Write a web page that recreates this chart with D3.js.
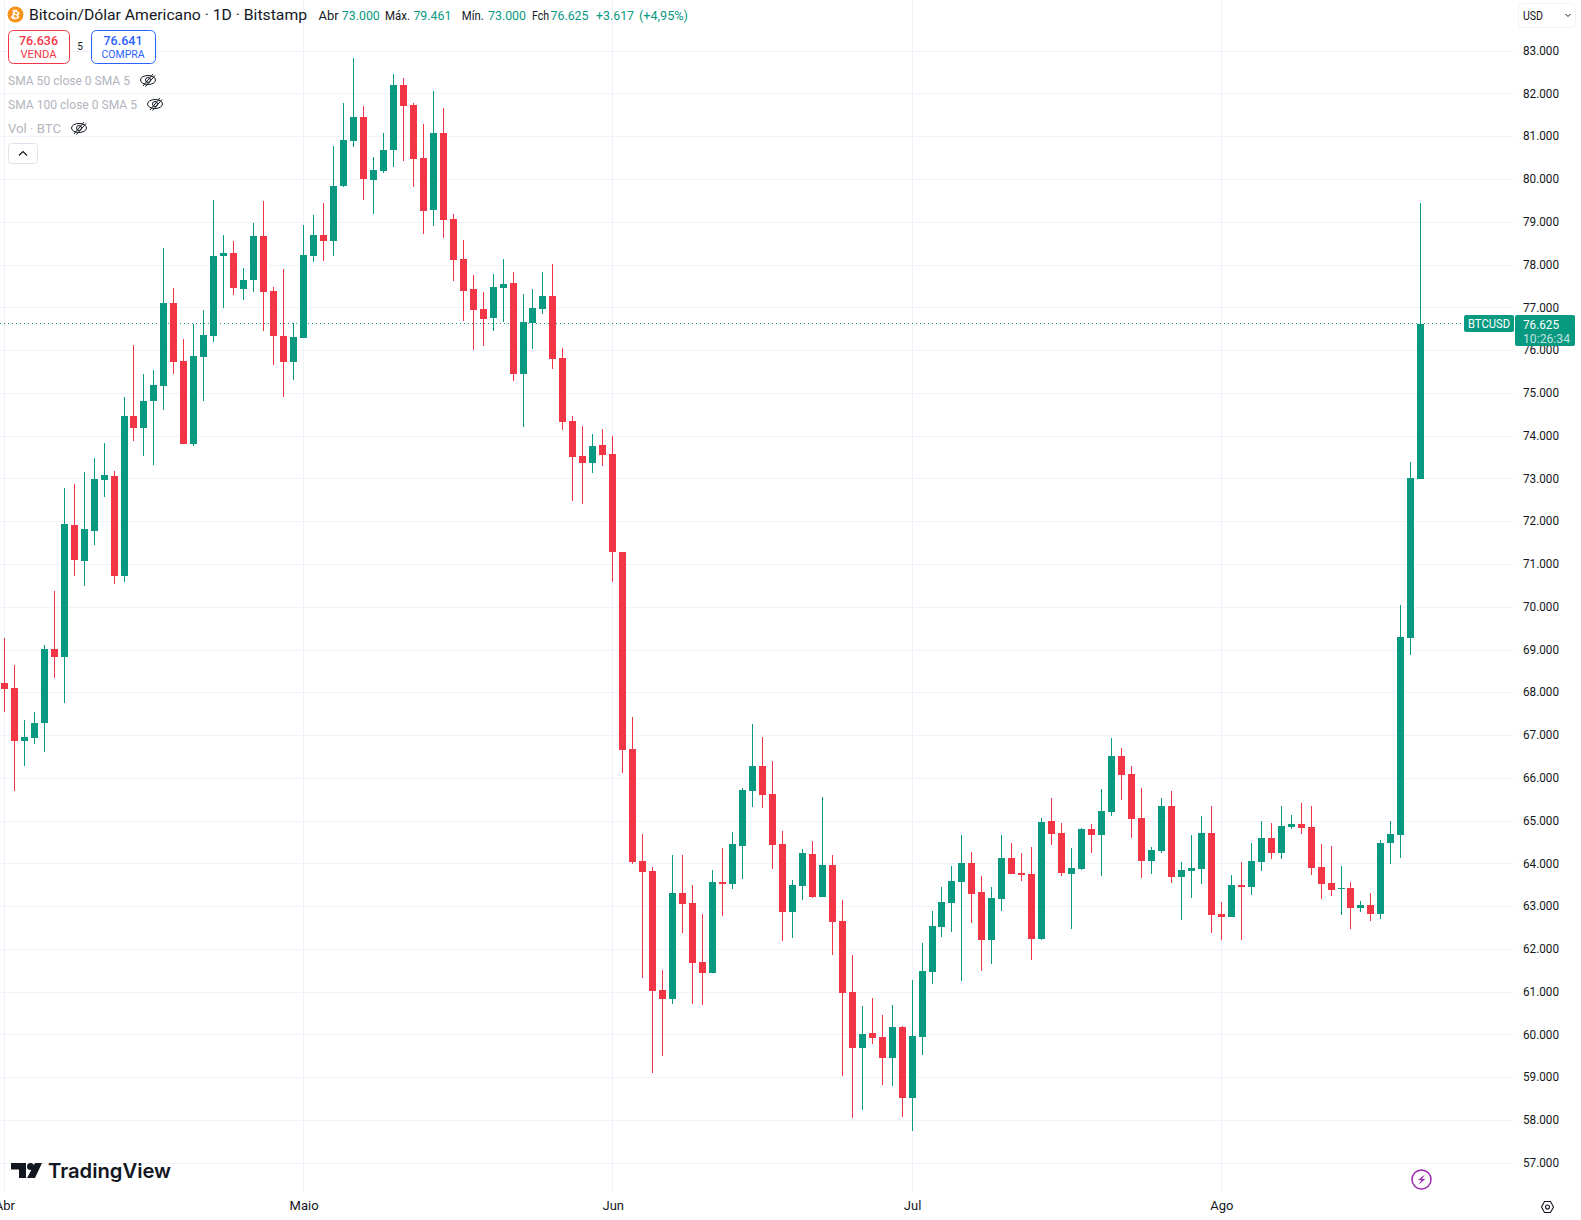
<!DOCTYPE html>
<html lang="pt">
<head>
<meta charset="utf-8">
<title>BTCUSD</title>
<script src="https://cdn.jsdelivr.net/npm/d3@7"></script>
<style>
  html, body { margin: 0; background: #fff; }
  svg { display: block; font-family: Roboto, "Open Sans", sans-serif; }
  .axis text { font-size: 13px; fill: #131722; font-family: Roboto, sans-serif; }
  .axis path, .axis line { display: none; }
  .gridline { stroke: #f0f3fa; stroke-width: 1; shape-rendering: crispEdges; }
</style>
</head>
<body>
<div id="chart"></div>
<script>
// prices in thousands of USD, one entry per daily candle
const opens = [
  68.23,68.11,66.88,66.95,67.30,69.02,68.84,71.92,71.07,71.79,
  72.97,73.07,70.74,74.47,74.18,74.83,75.18,77.11,75.76,73.82,
  75.86,76.35,78.21,78.28,77.44,77.64,78.68,77.39,76.34,75.74,
  76.30,78.21,78.70,78.57,79.85,80.91,81.46,80.00,80.21,80.68,
  82.21,81.74,80.50,79.29,81.09,79.08,78.14,77.44,76.97,76.76,
  77.46,77.58,75.45,76.64,76.97,77.28,75.83,74.35,73.53,73.37,
  73.79,73.58,71.30,66.68,64.07,63.83,61.05,60.84,63.32,63.08,
  61.70,61.45,63.57,63.53,64.42,65.70,66.29,65.63,64.46,62.87,
  63.48,64.23,63.22,63.97,62.66,61.00,59.69,60.04,59.95,59.46,
  60.18,58.52,59.95,61.47,62.52,63.08,63.57,64.02,63.34,62.22,
  63.18,64.13,63.79,63.76,62.24,65.00,64.72,63.76,63.88,64.81,
  64.67,65.21,66.52,66.10,65.07,64.07,64.30,65.35,63.69,63.83,
  63.88,64.72,62.83,62.76,63.50,63.46,64.04,64.60,64.25,64.86,
  64.93,64.86,63.93,63.55,63.41,63.43,62.97,63.04,62.83,64.49,
  64.67,69.28,73.00
];
const highs = [
  69.27,68.64,67.36,67.55,69.11,70.38,72.79,72.88,73.16,73.49,
  73.84,73.18,74.92,76.13,75.45,75.55,78.40,77.46,76.27,76.63,
  76.95,79.52,78.70,78.56,77.93,78.98,79.50,77.48,77.91,76.65,
  78.94,79.17,79.45,80.79,81.79,82.84,81.72,80.53,81.09,82.47,
  82.38,81.78,81.30,82.07,81.67,79.19,78.58,77.77,77.37,77.79,
  78.14,77.84,77.32,77.44,77.84,78.02,76.06,74.47,74.24,74.05,
  74.17,74.00,71.30,67.43,64.70,63.92,61.52,64.21,64.21,63.50,
  62.83,63.85,64.37,64.74,65.77,67.27,66.96,66.40,64.77,63.62,
  64.35,64.53,65.56,64.21,63.15,61.87,60.67,60.86,60.46,60.70,
  60.21,61.28,62.15,62.90,63.46,63.95,64.67,64.27,63.71,63.46,
  64.67,64.49,64.25,64.39,65.07,65.54,64.95,64.37,64.84,64.93,
  65.75,66.94,66.71,66.29,65.77,64.39,65.54,65.70,64.04,64.67,
  65.12,65.35,63.11,63.74,64.04,64.49,65.00,64.95,65.35,65.14,
  65.42,65.35,64.46,64.42,63.95,63.57,63.13,63.32,64.56,65.00,
  70.05,73.39,79.461
];
const lows = [
  67.56,65.71,66.30,66.81,66.62,68.35,67.75,70.74,70.50,71.46,
  72.58,70.55,70.60,73.89,73.54,73.33,74.60,75.46,73.82,73.78,
  74.83,76.19,77.00,77.31,77.19,77.38,76.47,75.67,74.92,75.32,
  76.30,78.06,78.10,78.22,79.83,80.75,79.53,79.20,80.16,80.30,
  80.44,79.83,78.73,78.92,78.64,77.63,76.69,76.01,76.11,76.46,
  76.67,75.29,74.21,76.04,76.85,75.57,74.14,72.48,72.41,73.14,
  73.30,70.59,66.13,64.00,61.34,59.11,59.51,60.72,62.38,60.72,
  60.70,61.45,62.78,63.41,63.64,65.33,65.30,63.88,62.19,62.26,
  63.15,63.20,63.22,61.87,59.04,58.06,58.24,59.79,58.83,58.80,
  58.08,57.75,59.53,61.19,62.29,62.40,61.26,62.62,61.49,61.66,
  62.90,63.76,63.60,61.75,62.22,64.44,63.71,62.48,63.86,64.25,
  63.71,65.12,65.49,64.60,63.67,63.76,64.25,63.55,62.69,63.20,
  63.53,62.38,62.22,62.76,62.22,63.27,63.83,64.11,64.11,64.81,
  64.70,63.74,63.18,63.25,62.80,62.48,62.87,62.66,62.71,64.00,
  64.14,68.88,73.00
];
const closes = [
  68.10,66.88,66.96,67.29,69.02,68.84,71.95,71.11,71.83,73.00,
  73.09,70.74,74.47,74.18,74.82,75.20,77.11,75.74,73.82,75.87,
  76.37,78.21,78.28,77.47,77.65,78.68,77.38,76.33,75.74,76.32,
  78.24,78.70,78.57,79.85,80.93,81.46,80.02,80.22,80.69,82.21,
  81.73,80.49,79.26,81.09,79.05,78.12,77.40,76.95,76.74,77.49,
  77.56,75.45,76.67,76.99,77.28,75.80,74.33,73.51,73.37,73.77,
  73.56,71.30,66.66,64.04,63.81,61.03,60.84,63.32,63.06,61.68,
  61.45,63.57,63.53,64.46,65.73,66.29,65.61,64.44,62.87,63.50,
  64.25,63.22,63.97,62.64,60.98,59.69,60.02,59.93,59.46,60.18,
  58.52,59.97,61.49,62.55,63.11,63.60,64.02,63.29,62.22,63.20,
  64.13,63.76,63.74,62.24,64.98,64.70,63.79,63.90,64.81,64.67,
  65.24,66.52,66.08,65.05,64.07,64.32,65.35,63.69,63.86,63.90,
  64.72,62.80,62.76,63.50,63.46,64.07,64.60,64.25,64.88,64.93,
  64.84,63.90,63.53,63.39,63.43,62.97,63.04,62.83,64.49,64.70,
  69.30,73.02,76.625
];

const priceTicks = d3.range(57, 84);
const monthStarts = [0, 30, 61, 91, 122];
const monthLabels = ['Abr', 'Maio', 'Jun', 'Jul', 'Ago'];
const lastPrice = 76.625;

const width = 1581;
const height = 1220;
const upColor = '#089981';
const downColor = '#f23645';

const xScale = d3.scaleLinear().domain([0, 122]).range([4.3, 1221.3]);
const yScale = d3.scaleLinear().domain([57, 83]).range([1163.3, 51.2]);

const svg = d3.select('#chart').append('svg')
  .attr('width', width)
  .attr('height', height)
  .attr('viewBox', `0 0 ${width} ${height}`);

// squeeze a label to the width it has in the reference
function fit(sel, w) {
  return sel.attr('textLength', w).attr('lengthAdjust', 'spacingAndGlyphs');
}

// gridlines
const grid = svg.append('g');
grid.selectAll('.h').data(priceTicks).join('line')
  .attr('class', 'gridline h')
  .attr('x1', 0).attr('x2', 1514)
  .attr('y1', d => Math.floor(yScale(d)) + 0.5)
  .attr('y2', d => Math.floor(yScale(d)) + 0.5);
grid.selectAll('.v').data(monthStarts).join('line')
  .attr('class', 'gridline v')
  .attr('y1', 0).attr('y2', 1192)
  .attr('x1', d => Math.floor(xScale(d)) + 0.5)
  .attr('x2', d => Math.floor(xScale(d)) + 0.5);

// last price dotted line
svg.append('line')
  .attr('x1', 0).attr('x2', 1464)
  .attr('y1', Math.floor(yScale(lastPrice)) + 0.5).attr('y2', Math.floor(yScale(lastPrice)) + 0.5)
  .attr('stroke', upColor)
  .attr('stroke-dasharray', '1 3')
  .attr('shape-rendering', 'crispEdges');

// candles
const candles = opens.map((o, i) => ({ i, o, h: highs[i], l: lows[i], c: closes[i] }));
const candle = svg.append('g').selectAll('g').data(candles).join('g')
  .attr('fill', d => d.c >= d.o ? upColor : downColor)
  .attr('shape-rendering', 'crispEdges');
candle.append('rect')
  .attr('x', d => Math.floor(xScale(d.i)))
  .attr('width', 1)
  .attr('y', d => yScale(d.h))
  .attr('height', d => yScale(d.l) - yScale(d.h));
candle.append('rect')
  .attr('x', d => Math.floor(xScale(d.i)) - 3)
  .attr('width', 7)
  .attr('y', d => yScale(Math.max(d.o, d.c)))
  .attr('height', d => Math.max(1, Math.abs(yScale(d.o) - yScale(d.c))));

// axes
const yAxis = svg.append('g').attr('class', 'axis')
  .attr('transform', 'translate(1523,-1)')
  .call(d3.axisRight(yScale).tickValues(priceTicks).tickSize(0).tickPadding(0)
    .tickFormat(d => d + '.000'));
fit(yAxis.selectAll('text'), 36);
svg.append('g').attr('class', 'axis')
  .attr('transform', 'translate(0,1201)')
  .call(d3.axisBottom(xScale).tickValues(monthStarts).tickSize(0).tickPadding(0)
    .tickFormat((d, i) => monthLabels[i]));

// last price tags
svg.append('rect').attr('x', 1464).attr('y', 315).attr('width', 50).attr('height', 17)
  .attr('rx', 2).attr('fill', upColor);
fit(svg.append('text').attr('x', 1468).attr('y', 328).attr('fill', '#fff')
  .attr('font-size', 13).text('BTCUSD'), 42);
svg.append('rect').attr('x', 1515).attr('y', 315).attr('width', 60).attr('height', 31)
  .attr('rx', 2).attr('fill', upColor);
fit(svg.append('text').attr('x', 1523).attr('y', 328.5).attr('fill', '#fff')
  .attr('font-size', 13).text('76.625'), 36);
fit(svg.append('text').attr('x', 1523).attr('y', 342.5).attr('fill', '#fff').attr('fill-opacity', 0.75)
  .attr('font-size', 13).text('10:26:34'), 47);

// header
svg.append('circle').attr('cx', 15.5).attr('cy', 14.5).attr('r', 8).attr('fill', '#f7931a');
svg.append('text').attr('x', 15.5).attr('y', 18.5).attr('text-anchor', 'middle')
  .attr('transform', 'rotate(14 15.5 14.5)')
  .attr('fill', '#fff').attr('font-size', 11).attr('font-weight', 700).text('₿');
fit(svg.append('text').attr('x', 29).attr('y', 20).attr('font-size', 15.5).attr('fill', '#131722')
  .text('Bitcoin/Dólar Americano · 1D · Bitstamp'), 278);

const legendParts = [
  [318.6, 'Abr', '#131722', 20], [341.8, '73.000', upColor, 38],
  [385, 'Máx.', '#131722', 25], [413.4, '79.461', upColor, 38],
  [461.8, 'Mín.', '#131722', 22], [488, '73.000', upColor, 38],
  [532, 'Fch', '#131722', 17], [550.5, '76.625', upColor, 38],
  [596, '+3.617', upColor, 38], [639, '(+4,95%)', upColor, 49]
];
fit(svg.append('g').selectAll('text').data(legendParts).join('text')
  .attr('x', d => d[0]).attr('y', 19.5)
  .attr('font-size', 13).attr('fill', d => d[2])
  .text(d => d[1]), d => d[3]);

// sell / buy boxes
[[8, 61, downColor, '76.636', 'VENDA', 36], [91, 64, '#2962ff', '76.641', 'COMPRA', 43]].forEach(([x, w, col, price, label, lw]) => {
  svg.append('rect').attr('x', x + 0.5).attr('y', 30.5).attr('width', w).attr('height', 33)
    .attr('rx', 5).attr('fill', '#fff').attr('stroke', col);
  fit(svg.append('text').attr('x', x + w / 2).attr('y', 44.5).attr('text-anchor', 'middle')
    .attr('font-size', 13).attr('font-weight', 500).attr('fill', col).text(price), 39);
  fit(svg.append('text').attr('x', x + w / 2).attr('y', 58).attr('text-anchor', 'middle')
    .attr('font-size', 11.5).attr('fill', col).text(label), lw);
});
svg.append('text').attr('x', 80).attr('y', 50).attr('text-anchor', 'middle')
  .attr('font-size', 10).attr('fill', '#131722').text('5');

// hidden indicators
const indicators = [['SMA 50 close 0 SMA 5', 80, 148, 122], ['SMA 100 close 0 SMA 5', 104, 155, 129], ['Vol · BTC', 128, 79, 53]];
indicators.forEach(([label, y, eyeX, labelWidth]) => {
  fit(svg.append('text').attr('x', 8).attr('y', y + 4.5).attr('font-size', 13)
    .attr('fill', '#b2b5be').text(label), labelWidth);
  const eye = svg.append('g').attr('transform', `translate(${eyeX},${y})`)
    .attr('fill', 'none').attr('stroke', '#131722').attr('stroke-width', 1);
  eye.append('ellipse').attr('rx', 7.5).attr('ry', 4.5);
  eye.append('circle').attr('r', 2.5);
  eye.append('line').attr('x1', -5).attr('y1', 6).attr('x2', 5).attr('y2', -6);
  eye.append('line').attr('x1', -2.5).attr('y1', 6.5).attr('x2', 7).attr('y2', -4.5);
});
svg.append('rect').attr('x', 8.5).attr('y', 143.5).attr('width', 29).attr('height', 20)
  .attr('rx', 3).attr('fill', '#fff').attr('stroke', '#e0e3eb');
svg.append('path').attr('d', 'M19 155.5l4-4 4 4').attr('fill', 'none')
  .attr('stroke', '#131722').attr('stroke-width', 1.2);

// currency button
svg.append('rect').attr('x', 1518.5).attr('y', 3.5).attr('width', 57).attr('height', 24)
  .attr('rx', 4).attr('fill', '#fff').attr('stroke', '#f0f3fa');
fit(svg.append('text').attr('x', 1523).attr('y', 19.5).attr('font-size', 13).attr('fill', '#131722').text('USD'), 20);
svg.append('path').attr('d', 'M1565.5 14l2.5 2.5 2.5-2.5').attr('fill', 'none')
  .attr('stroke', '#131722').attr('stroke-width', 1);

// logo
const logo = svg.append('g').attr('fill', '#131722');
logo.append('path').attr('d', 'M11 1163h15v15h-7v-8.500h-8z');
logo.append('circle').attr('cx', 30.5).attr('cy', 1166.500).attr('r', 3.5);
logo.append('path').attr('d', 'M35 1163h7l-7 15h-8z');
logo.append('text').attr('x', 48).attr('y', 1178).attr('font-family', 'Inter, sans-serif')
  .attr('font-size', 20.2).attr('font-weight', 600).text('TradingView');

// lightning badge and settings
svg.append('circle').attr('cx', 1421.5).attr('cy', 1179.5).attr('r', 9.500)
  .attr('fill', '#fff').attr('stroke', '#9c27b0').attr('stroke-width', 1.5);
svg.append('path').attr('d', 'M1425 1174.500l-7 5.500h3.500l-3 4.500 7-5.500h-3.500z').attr('fill', '#9c27b0');
svg.append('path').attr('d', 'M1541.5 1207l3-5.500h6l3 5.500-3 5.500h-6z').attr('fill', 'none')
  .attr('stroke', '#131722').attr('stroke-width', 1.1);
svg.append('circle').attr('cx', 1547.500).attr('cy', 1207).attr('r', 2).attr('fill', 'none')
  .attr('stroke', '#131722').attr('stroke-width', 1.1);
</script>
</body>
</html>
